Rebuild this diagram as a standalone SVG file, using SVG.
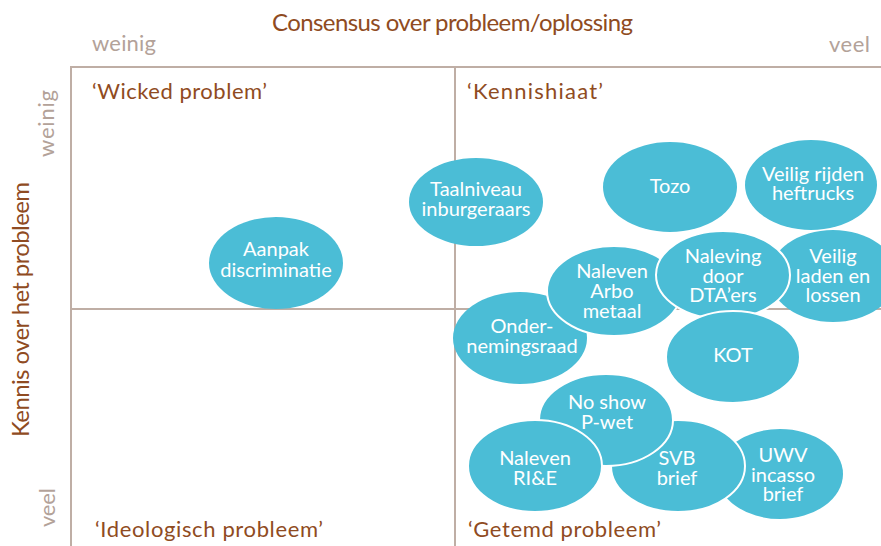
<svg xmlns="http://www.w3.org/2000/svg" width="881" height="546" viewBox="0 0 881 546">
<style>
.ax{stroke:#bfaea5;stroke-width:2;fill:none}
.t{font-family:Lato,"Open Sans",sans-serif}
.title{fill:#8f4b22;font-size:24px}
.q{fill:#8f4b22;font-size:22px}
.sc{fill:#b3a299;font-size:22px}
.n ellipse{fill:#4bbdd6}
.n ellipse.w{stroke:#ffffff;stroke-width:2}
.n text{font-family:Lato,"Open Sans",sans-serif;font-size:20px;fill:#ffffff;text-anchor:middle}
</style>
<rect width="881" height="546" fill="#ffffff"/>
<g id="axes">
<line class="ax" x1="71" y1="67" x2="881" y2="67"/>
<line class="ax" x1="71" y1="66" x2="71" y2="546"/>
<line class="ax" x1="455" y1="67" x2="455" y2="546"/>
<line class="ax" x1="71" y1="309" x2="881" y2="309"/>
</g>
<g id="labels">
<text class="t title" x="272" y="31" textLength="361">Consensus over probleem/oplossing</text>
<text class="t sc" x="92" y="51" textLength="64">weinig</text>
<text class="t sc" x="829" y="52" textLength="41">veel</text>
<text class="t title" transform="translate(29,437) rotate(-90)" textLength="255">Kennis over het probleem</text>
<text class="t sc" transform="translate(54,157) rotate(-90)" textLength="67">weinig</text>
<text class="t sc" transform="translate(55,527) rotate(-90)" textLength="39">veel</text>
<text class="t q" x="92" y="99" textLength="175">‘Wicked problem’</text>
<text class="t q" x="467" y="99" textLength="136">‘Kennishiaat’</text>
<text class="t q" x="95" y="537" textLength="228">‘Ideologisch probleem’</text>
<text class="t q" x="468" y="537" textLength="193">‘Getemd probleem’</text>
</g>
<g id="connectors"></g>
<g id="aanpak" class="n"><ellipse cx="276" cy="263" rx="67" ry="46"/><text x="276" y="256">Aanpak</text><text x="276" y="277">discriminatie</text></g>
<g id="taalniveau" class="n"><ellipse cx="476" cy="202" rx="67" ry="44"/><text x="476" y="196">Taalniveau</text><text x="476" y="216">inburgeraars</text></g>
<g id="tozo" class="n"><ellipse cx="670" cy="187" rx="67" ry="45"/><text x="670" y="193">Tozo</text></g>
<g id="heftrucks" class="n"><ellipse cx="811" cy="185" rx="66" ry="45"/><text x="813" y="181">Veilig rijden</text><text x="813" y="200">heftrucks</text></g>
<g id="ondernemingsraad" class="n"><ellipse cx="520" cy="338" rx="67" ry="46"/><text x="522" y="333">Onder-</text><text x="522" y="353">nemingsraad</text></g>
<g id="arbo" class="n"><ellipse class="w" cx="614" cy="291" rx="67" ry="45"/><text x="612" y="278">Naleven</text><text x="612" y="298">Arbo</text><text x="612" y="318">metaal</text></g>
<g id="laden" class="n"><ellipse cx="833" cy="276" rx="64" ry="46"/><text x="833" y="263">Veilig</text><text x="833" y="283">laden en</text><text x="833" y="302">lossen</text></g>
<g id="dta" class="n"><ellipse class="w" cx="723" cy="275" rx="67" ry="44"/><text x="723" y="263">Naleving</text><text x="723" y="283">door</text><text x="723" y="302">DTA’ers</text></g>
<g id="kot" class="n"><ellipse class="w" cx="733" cy="357" rx="67" ry="46"/><text x="733" y="362">KOT</text></g>
<g id="uwv" class="n"><ellipse cx="780" cy="474" rx="63" ry="45"/><text x="783" y="462">UWV</text><text x="783" y="482">incasso</text><text x="783" y="501">brief</text></g>
<g id="svb" class="n"><ellipse class="w" cx="678" cy="466" rx="67" ry="46"/><text x="677" y="465">SVB</text><text x="677" y="485">brief</text></g>
<g id="noshow" class="n"><ellipse class="w" cx="606" cy="420" rx="67" ry="46"/><text x="607" y="409">No show</text><text x="607" y="429">P-wet</text></g>
<g id="rie" class="n"><ellipse class="w" cx="535" cy="466" rx="67" ry="46"/><text x="535" y="465">Naleven</text><text x="535" y="485">RI&amp;E</text></g>
</svg>
